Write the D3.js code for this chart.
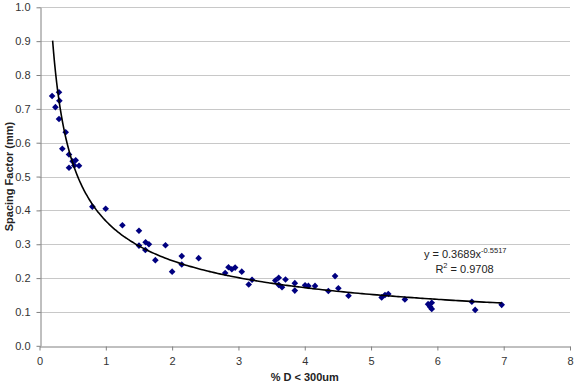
<!DOCTYPE html>
<html><head><meta charset="utf-8">
<script src="https://cdn.jsdelivr.net/npm/d3@7"></script>
<style>body{margin:0;background:#fff}svg{display:block}text{font-family:Arial,"Liberation Sans",sans-serif}</style>
</head><body><svg id="c" width="577" height="385"></svg>
<script>
const xVals = [0.19,0.294,0.30,0.24,0.294,0.395,0.344,0.445,0.50,0.546,0.445,0.525,0.596,0.797,0.998,1.25,
 1.50,1.50,1.60,1.65,1.596,1.747,1.90,2.0,2.145,2.145,2.40,2.80,2.85,2.90,2.95,3.05,3.205,3.155,
 3.556,3.607,3.71,3.607,3.657,3.85,3.85,4.005,4.055,4.155,4.356,4.457,4.507,4.66,5.16,5.21,5.26,5.51,
 5.86,5.915,5.89,5.915,6.52,6.57,6.97];
const yVals = [0.738,0.749,0.724,0.705,0.670,0.631,0.582,0.565,0.545,0.548,0.526,0.533,0.532,0.411,0.405,0.356,
 0.340,0.296,0.306,0.300,0.283,0.253,0.297,0.219,0.265,0.240,0.259,0.215,0.232,0.226,0.231,0.219,0.195,0.181,
 0.193,0.201,0.196,0.180,0.173,0.185,0.163,0.179,0.177,0.177,0.162,0.206,0.170,0.148,0.143,0.150,0.153,0.137,
 0.123,0.127,0.115,0.109,0.130,0.106,0.121];
const xTicks = [0,1,2,3,4,5,6,7,8];
const yTicks = [0,0.1,0.2,0.3,0.4,0.5,0.6,0.7,0.8,0.9,1.0];
const fitA = 0.3689, fitB = -0.5517;
const fitRange = [0.198, 6.97];
const eqText = "y = 0.3689x", eqExp = "-0.5517", r2Text = " = 0.9708";
const xTitle = "% D < 300um", yTitle = "Spacing Factor (mm)";

const svg = d3.select("#c");
const x = d3.scaleLinear().domain([0,8]).range([39.5,570]);
const y = d3.scaleLinear().domain([0,1]).range([345.8,7.3]);

// gridlines
svg.append("g").selectAll("line").data(yTicks.slice(1)).join("line")
  .attr("x1",x(0)).attr("x2",x(8)).attr("y1",d=>Math.round(y(d))+0.5).attr("y2",d=>Math.round(y(d))+0.5)
  .attr("stroke","#c8c8c8").attr("stroke-width",1);

// axes
const xa = svg.append("g").attr("transform",`translate(0,${Math.round(y(0))+0.5})`)
  .call(d3.axisBottom(x).tickValues(xTicks).tickFormat(d3.format("d")).tickSize(4).tickSizeOuter(0));
const ya = svg.append("g").attr("transform",`translate(${Math.round(x(0))+0.5},0)`)
  .call(d3.axisLeft(y).tickValues(yTicks).tickFormat(d3.format(".1f")).tickSize(4).tickSizeOuter(0));
[xa,ya].forEach(g=>{
  g.select(".domain").attr("stroke","#808080");
  g.selectAll(".tick line").attr("stroke","#808080");
  g.selectAll(".tick text").attr("fill","#333").attr("font-size","11px").attr("font-family","Arial, 'Liberation Sans', sans-serif");
});
xa.selectAll(".tick text").attr("dy","1.05em");
ya.selectAll(".tick text").attr("dx","-3px");

// points
const pts = xVals.map((v,i)=>[v,yVals[i]]);
svg.append("g").selectAll("path").data(pts).join("path")
  .attr("d",d3.symbol().type(d3.symbolDiamond2).size(28))
  .attr("transform",d=>`translate(${x(d[0])},${y(d[1])})`)
  .attr("fill","#000080");

// fit curve
const curvePts = d3.range(0,201).map(i=>{const t=fitRange[0]+(fitRange[1]-fitRange[0])*Math.pow(i/200,2); return [t, fitA*Math.pow(t,fitB)];});
svg.append("path").datum(curvePts)
  .attr("d",d3.line().x(d=>x(d[0])).y(d=>y(d[1])).curve(d3.curveMonotoneX))
  .attr("fill","none").attr("stroke","#000").attr("stroke-width",1.6);

// equation
const eq = svg.append("text").attr("x",x(6.42)).attr("y",258).attr("text-anchor","middle").attr("font-size","11px").attr("fill","#222");
eq.append("tspan").text(eqText);
eq.append("tspan").attr("font-size","7.5px").attr("dy","-5").text(eqExp);
const r2 = svg.append("text").attr("x",x(6.41)).attr("y",273).attr("text-anchor","middle").attr("font-size","11px").attr("fill","#222");
r2.append("tspan").text("R");
r2.append("tspan").attr("font-size","7.5px").attr("dy","-5").text("2");
r2.append("tspan").attr("dy","5").text(r2Text);

// titles
svg.append("text").attr("x",x(4)).attr("y",381).attr("text-anchor","middle").attr("font-size","11px").attr("font-weight","bold").attr("fill","#222").text(xTitle);
svg.append("text").attr("transform",`translate(13,${y(0.5)}) rotate(-90)`).attr("text-anchor","middle").attr("font-size","11px").attr("font-weight","bold").attr("fill","#222").text(yTitle);
</script></body></html>
